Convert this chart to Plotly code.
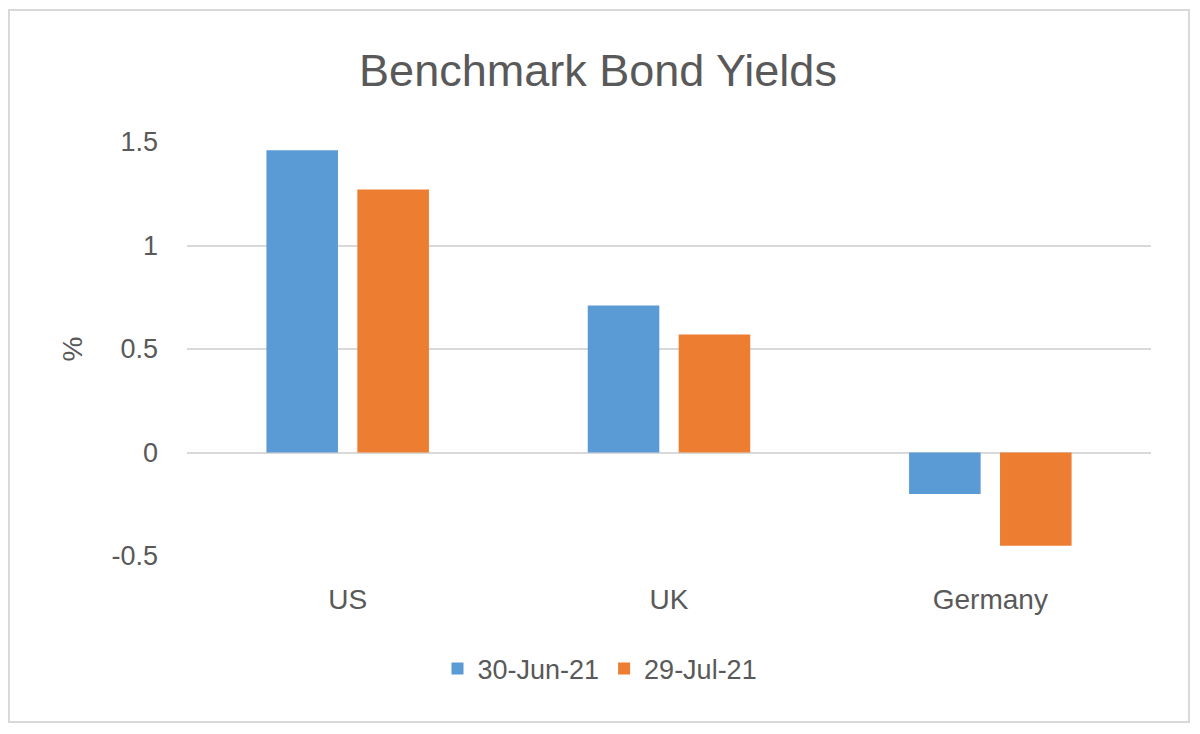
import plotly.graph_objects as go

# Benchmark 10y bond yields (%)
countries = ["US", "UK", "Germany"]
series_names = ["30-Jun-21", "29-Jul-21"]
yields_jun = [1.46, 0.71, -0.20]
yields_jul = [1.27, 0.57, -0.45]
y_ticks = [-0.5, 0, 0.5, 1, 1.5]
y_tick_labels = ["-0.5", "0", "0.5", "1", "1.5"]

colors = ["#5B9BD5", "#ED7D31"]
text_color = "#595959"
grid_color = "#d9d9d9"
font_family = "Liberation Sans, Arial, sans-serif"

# page body adds an 8px offset, so positions below are taken from the
# reference and shifted back by that amount
OFF = 8
W, H = 1200, 734
L, R, T, B = 187 - OFF, 1151 - OFF, 142 - OFF, 556 - OFF


def px_x(x):
    return (x - OFF - L) / (R - L)


def px_y(y):
    return (B - (y - OFF)) / (B - T)


fig = go.Figure()
for name, vals, col in zip(series_names, [yields_jun, yields_jul], colors):
    fig.add_trace(
        go.Bar(
            x=countries,
            y=vals,
            name=name,
            marker=dict(color=col, line=dict(width=0)),
        )
    )

fig.update_layout(
    width=W,
    height=H,
    margin=dict(l=L, r=W - R, t=T, b=H - B, pad=0),
    paper_bgcolor="white",
    plot_bgcolor="white",
    font=dict(family=font_family, color=text_color, size=27),
    barmode="group",
    bargap=0.434,
    bargroupgap=0.213,
    title=dict(
        text="Benchmark Bond Yields",
        font=dict(size=45, color=text_color),
        x=(598 - OFF) / W,
        xanchor="center",
        y=1 - (70 - OFF) / H,
        yanchor="middle",
    ),
    legend=dict(
        orientation="h",
        x=px_x(600),
        xanchor="center",
        y=px_y(669),
        yanchor="middle",
        font=dict(size=27, color=text_color),
        itemwidth=30,
        traceorder="normal",
    ),
    shapes=[
        dict(
            type="rect",
            xref="paper",
            yref="paper",
            x0=px_x(9),
            x1=px_x(1189),
            y0=px_y(722),
            y1=px_y(10),
            line=dict(color=grid_color, width=2),
            layer="below",
        )
    ],
)

fig.update_xaxes(
    showgrid=False,
    showline=False,
    ticks="",
    tickfont=dict(size=28, color=text_color),
    ticklabelstandoff=24,
)

fig.update_yaxes(
    range=[-0.5, 1.5],
    tickvals=y_ticks,
    ticktext=y_tick_labels,
    showgrid=True,
    gridcolor=grid_color,
    gridwidth=2,
    zeroline=True,
    zerolinecolor=grid_color,
    zerolinewidth=2,
    showline=False,
    ticks="",
    tickfont=dict(size=27, color=text_color),
    ticklabelstandoff=28,
    title=dict(text="%", font=dict(size=28, color=text_color), standoff=20),
)

fig.write_html("out.html")
